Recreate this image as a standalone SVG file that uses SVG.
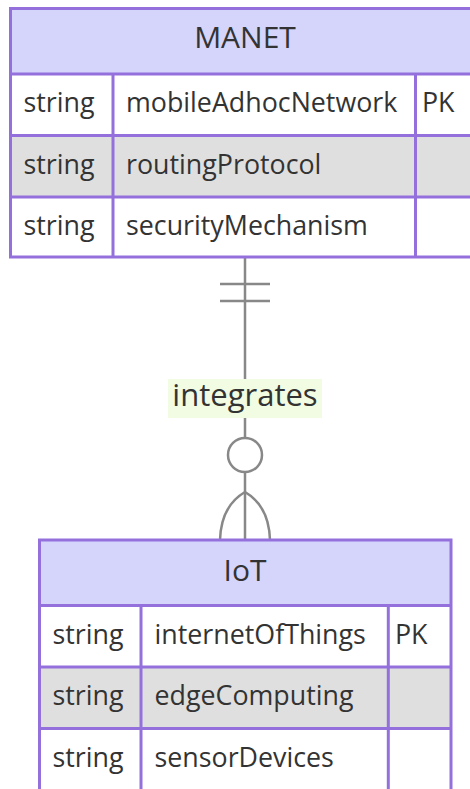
<svg xmlns="http://www.w3.org/2000/svg" width="470" height="789" viewBox="0 0 470 789">
  <style>
    .box { fill: none; stroke: #9370db; stroke-width: 3; }
    .hdr { fill: #d5d5fc; }
    .odd { fill: #ffffff; }
    .even { fill: #dfdfdf; }
    .div { stroke: #9370db; stroke-width: 3; fill: none; }
    .title { font-family: "Open Sans", "Noto Sans", sans-serif; font-size: 30px; fill: #333333; text-anchor: middle; }
    .attr { font-family: "Open Sans", "Noto Sans", sans-serif; font-size: 26.8px; fill: #333333; }
    .rel { stroke: #888888; stroke-width: 2.5; fill: none; }
    .lbl { font-family: "Open Sans", "Noto Sans", sans-serif; font-size: 31px; fill: #333333; text-anchor: middle; }
  </style>
  <rect width="470" height="789" fill="#ffffff"/>

  <!-- relationship: exactly one MANET to zero or more IoT -->
  <g id="connectors">
    <line class="rel" x1="245" y1="257" x2="245" y2="540"/>
    <line class="rel" x1="220" y1="284" x2="270" y2="284"/>
    <line class="rel" x1="220" y1="301" x2="270" y2="301"/>
    <circle cx="245" cy="455" r="17" fill="#ffffff" stroke="#888888" stroke-width="2.5"/>
    <path class="rel" d="M245,492 Q221,506 220,540"/>
    <path class="rel" d="M245,492 Q269,506 270,540"/>
    <rect x="168" y="379" width="154" height="39" fill="#f1fce3"/>
    <text class="lbl" x="245" y="406">integrates</text>
  </g>

  <!-- MANET entity -->
  <g id="MANET">
    <rect class="hdr" x="10.5" y="8.5" width="469" height="65.5"/>
    <rect class="odd" x="10.5" y="74" width="469" height="61.5"/>
    <rect class="even" x="10.5" y="135.5" width="469" height="61.5"/>
    <rect class="odd" x="10.5" y="197" width="469" height="60"/>
    <path class="div" d="M10.5,74H479.5M10.5,135.5H479.5M10.5,197H479.5M113,74V257M415.5,74V257"/>
    <rect class="box" x="10.5" y="8.5" width="469" height="248.5"/>
    <text class="title" x="245" y="48">MANET</text>
    <text class="attr" x="23.5" y="112">string</text>
    <text class="attr" x="126" y="112">mobileAdhocNetwork</text>
    <text class="attr" x="422" y="112">PK</text>
    <text class="attr" x="23.5" y="173.5">string</text>
    <text class="attr" x="126" y="173.5">routingProtocol</text>
    <text class="attr" x="23.5" y="234.5">string</text>
    <text class="attr" x="126" y="234.5">securityMechanism</text>
  </g>

  <!-- IoT entity -->
  <g id="IoT">
    <rect class="hdr" x="39.5" y="540" width="411.5" height="65.5"/>
    <rect class="odd" x="39.5" y="605.5" width="411.5" height="61.5"/>
    <rect class="even" x="39.5" y="667" width="411.5" height="61.5"/>
    <rect class="odd" x="39.5" y="728.5" width="411.5" height="62"/>
    <path class="div" d="M39.5,605.5H451M39.5,667H451M39.5,728.5H451M141,605.5V792M388.3,605.5V792"/>
    <rect class="box" x="39.5" y="540" width="411.5" height="252"/>
    <text class="title" x="245" y="580.5">IoT</text>
    <text class="attr" x="52.5" y="643.5">string</text>
    <text class="attr" x="154.5" y="643.5">internetOfThings</text>
    <text class="attr" x="395" y="643.5">PK</text>
    <text class="attr" x="52.5" y="705">string</text>
    <text class="attr" x="154.5" y="705">edgeComputing</text>
    <text class="attr" x="52.5" y="766.5">string</text>
    <text class="attr" x="154.5" y="766.5">sensorDevices</text>
  </g>
</svg>
